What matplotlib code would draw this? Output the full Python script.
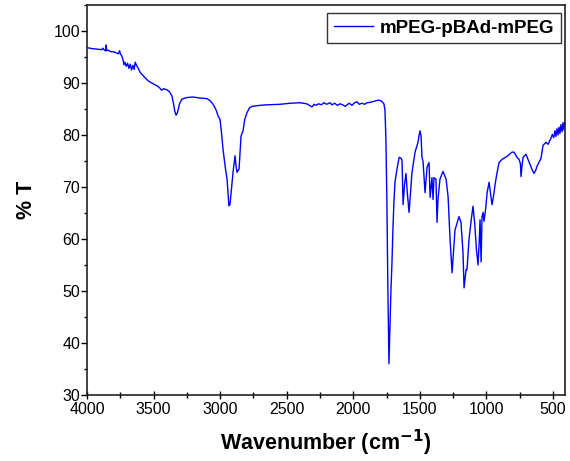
import matplotlib
matplotlib.use("Agg")
import matplotlib.pyplot as plt
from matplotlib.ticker import MultipleLocator

plt.rcParams['font.family'] = ['Liberation Sans', 'DejaVu Sans']

wavenumber = [4000, 3960, 3920, 3890, 3880, 3870, 3860, 3857, 3852, 3840, 3820, 3800, 3780, 3765, 3755, 3748,
              3740, 3730, 3722, 3715, 3705, 3695, 3685, 3675, 3665, 3655, 3645, 3638, 3628, 3615, 3600, 3585,
              3564, 3540, 3527, 3500, 3470, 3452, 3440, 3425, 3400, 3380, 3362, 3350, 3340, 3331, 3320, 3305,
              3287, 3250, 3204, 3150, 3100, 3075, 3053, 3030, 3016, 3001, 2990, 2978, 2960, 2948, 2940, 2934,
              2926, 2915, 2903, 2888, 2880, 2873, 2865, 2858, 2850, 2843, 2828, 2815, 2798, 2780, 2761, 2700,
              2648, 2550, 2475, 2400, 2377, 2350, 2330, 2310, 2295, 2280, 2260, 2240, 2220, 2200, 2175, 2160,
              2140, 2120, 2100, 2080, 2060, 2047, 2030, 2010, 1990, 1972, 1955, 1935, 1915, 1897, 1870, 1840,
              1814, 1795, 1784, 1770, 1762, 1755, 1748, 1740, 1732, 1725, 1717, 1710, 1702, 1695, 1687, 1672,
              1656, 1645, 1634, 1626, 1615, 1604, 1596, 1581, 1570, 1559, 1536, 1514, 1505, 1499, 1491, 1484,
              1476, 1461, 1446, 1431, 1423, 1409, 1401, 1394, 1379, 1371, 1364, 1349, 1326, 1303, 1288, 1273,
              1258, 1245, 1236, 1228, 1206, 1191, 1176, 1168, 1153, 1146, 1131, 1115, 1101, 1088, 1075, 1063,
              1055, 1048, 1040, 1033, 1025, 1018, 1005, 995, 980, 970, 958, 945, 935, 920, 905, 883,
              845, 808, 793, 770, 755, 745, 740, 733, 725, 703, 688, 670, 658, 643, 630, 620,
              590, 575, 552, 537, 515, 505, 495, 485, 478, 470, 462, 455, 448, 440, 432, 425,
              418, 410]

transmittance = [96.8, 96.6, 96.5, 96.4, 96.7, 96.3, 96.2, 97.3, 96.2, 96.3, 96.0, 96.0, 95.8, 95.6, 96.2, 95.5,
                 95.3, 94.5, 93.5, 94.0, 93.2, 93.8, 92.8, 93.6, 92.5, 93.4, 92.6, 94.0, 93.4, 92.8, 92.0, 91.6,
                 91.0, 90.4, 90.2, 89.8, 89.4, 89.0, 88.6, 88.9, 88.7, 88.3, 87.5, 86.0, 84.5, 83.8, 84.3, 86.0,
                 86.9, 87.2, 87.3, 87.1, 87.0, 86.6, 85.9, 84.8, 83.7, 83.0, 80.5, 77.2, 73.5, 71.5, 68.5, 66.4,
                 66.6, 69.5, 72.8, 76.0, 74.0, 72.8, 73.2, 73.4, 77.0, 79.8, 80.8, 83.0, 84.3, 85.2, 85.5, 85.7,
                 85.8, 85.9, 86.1, 86.2, 86.1, 86.0, 85.7, 85.4, 85.9, 85.7, 86.0, 85.8, 86.2, 85.9, 86.2, 85.8,
                 86.1, 85.7, 86.0, 85.8, 85.5, 85.8, 86.1, 85.7, 86.2, 86.4, 85.9, 86.1, 85.9, 86.2, 86.3, 86.5,
                 86.7, 86.6, 86.4, 86.0, 84.8, 79.2, 68.0, 50.0, 36.0, 43.0, 50.2, 55.0, 62.0, 67.0, 70.9, 73.4,
                 75.7, 75.6, 75.2, 66.6, 70.5, 72.6, 69.5, 65.1, 69.0, 72.8, 76.7, 78.6, 80.0, 80.8, 79.8, 75.7,
                 74.9, 68.9, 73.8, 74.7, 68.0, 71.8, 67.6, 71.8, 71.5, 63.2, 67.6, 71.5, 73.0, 71.5, 68.2, 59.9,
                 53.5, 58.5, 61.8, 62.4, 64.3, 63.2, 57.4, 50.6, 54.1, 54.1, 59.9, 63.5, 66.3, 63.0, 58.0, 55.0,
                 59.0, 63.7, 55.6, 64.3, 65.1, 63.4, 66.0, 68.9, 70.9, 69.0, 66.6, 68.5, 70.5, 72.8, 74.7, 75.3,
                 75.9, 76.7, 76.7, 75.7, 75.3, 74.5, 72.0, 74.0, 75.7, 76.3, 75.3, 74.2, 73.4, 72.6, 73.2, 74.0,
                 75.5, 78.0, 78.6, 78.2, 79.4, 80.1, 79.5, 80.8, 79.7, 81.2, 80.0, 81.5, 80.3, 82.0, 80.6, 82.4,
                 81.0, 82.6]

series_label = "mPEG-pBAd-mPEG"
x_ticks = [4000, 3500, 3000, 2500, 2000, 1500, 1000, 500]
y_ticks = [30, 40, 50, 60, 70, 80, 90, 100]

fig = plt.figure(figsize=(5.70, 4.61), dpi=100)
ax = fig.add_axes([0.1526, 0.1432, 0.8386, 0.846])
ax.plot(wavenumber, transmittance, color='#0000ff', lw=1.0, label=series_label)

ax.set_xlim(4000, 410)
ax.set_ylim(30, 105)
ax.set_xticks(x_ticks)
ax.set_yticks(y_ticks)
ax.xaxis.set_minor_locator(MultipleLocator(250))
ax.yaxis.set_minor_locator(MultipleLocator(5))
ax.tick_params(axis='x', which='major', direction='inout', length=6, width=1, labelsize=11.5, pad=2)
ax.tick_params(axis='x', which='minor', direction='inout', length=5, width=1)
ax.tick_params(axis='y', which='major', direction='out', length=4, width=1, labelsize=11.5, pad=1)
ax.tick_params(axis='y', which='minor', direction='out', length=2.5, width=1)
for s in ax.spines.values():
    s.set_linewidth(1.2)
    s.set_color('#222222')

ax.set_xlabel("Wavenumber (cm$^{\\mathbf{-1}}$)", fontsize=15.5, fontweight='bold', labelpad=8)
ax.set_ylabel("% T", fontsize=15.5, fontweight='bold', labelpad=12)

leg = ax.legend(loc='upper right', bbox_to_anchor=(561 / 570, 1 - 13 / 461),
                bbox_transform=fig.transFigure,
                prop={'weight': 'bold', 'size': 13.5},
                frameon=True, fancybox=False, edgecolor='black', borderpad=0.35,
                handlelength=2.1, handletextpad=0.35, borderaxespad=0.0)
leg.get_frame().set_linewidth(1.0)

fig.savefig("out.png", dpi=100)
